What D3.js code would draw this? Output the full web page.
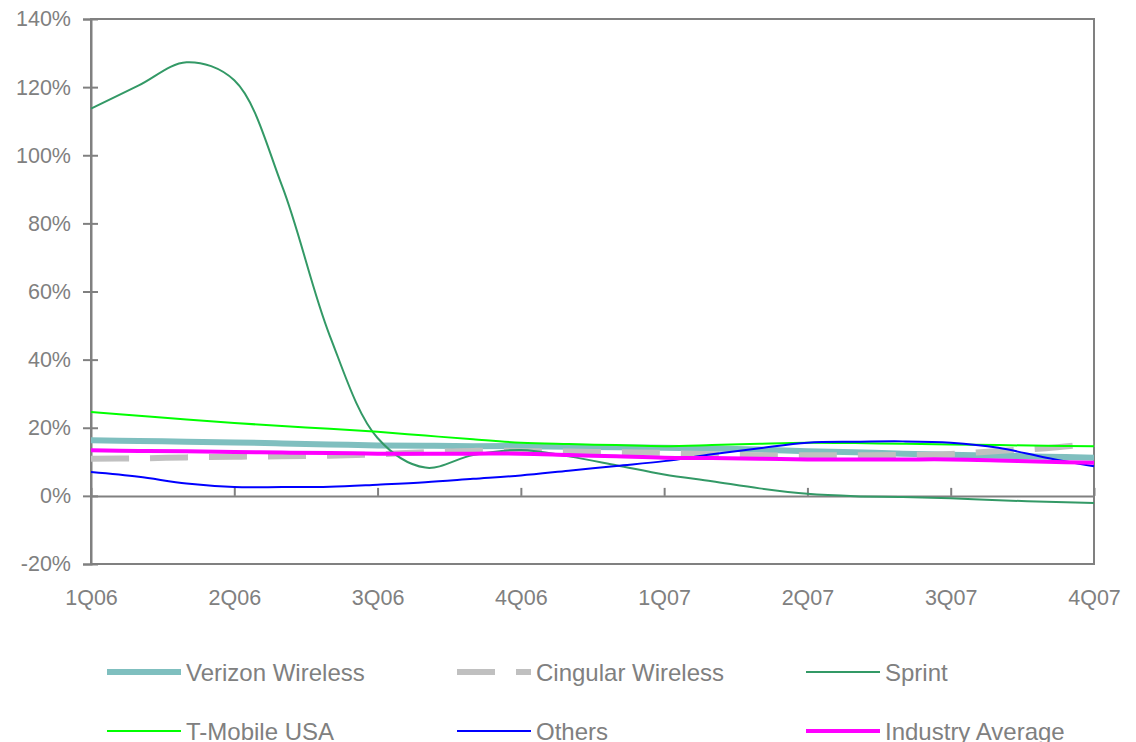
<!DOCTYPE html>
<html>
<head>
<meta charset="utf-8">
<script src="https://cdn.jsdelivr.net/npm/d3@7"></script>
<style>
  body { margin: 0; background: #fff; }
  text { font-family: "Liberation Sans", Arial, sans-serif; fill: #808080; }
</style>
</head>
<body>
<div id="graph"></div>
<script>
// Données (croissance en %, un point par mois)
let mois = ["Jan06","Feb06","Mar06","Apr06","May06","Jun06","Jul06","Aug06","Sep06","Oct06","Nov06","Dec06",
            "Jan07","Feb07","Mar07","Apr07","May07","Jun07","Jul07","Aug07","Sep07","Oct07"];
let trimestres = ["1Q06","2Q06","3Q06","4Q06","1Q07","2Q07","3Q07","4Q07"];
let trimestresMois = ["Jan06","Apr06","Jul06","Oct06","Jan07","Apr07","Jul07","Oct07"];
let graduationsY = [-20, 0, 20, 40, 60, 80, 100, 120, 140];

let verizon   = [16.3,16.1,15.9,15.7,15.4,15.1,14.8,14.7,14.6,14.6,14.4,14.3,14.1,13.9,13.6,13.1,12.8,12.4,12.1,11.8,11.5,11.2];
let cingular  = [10.9,11.0,11.3,11.5,11.6,11.8,12.2,12.8,13.2,13.2,13.0,12.8,12.6,12.2,11.9,11.9,11.9,12.0,12.3,13.2,14.0,15.3];
let sprint    = [113.7,120.5,127.3,122.0,91.0,47.0,17.0,8.3,12.0,13.5,11.6,9.0,6.3,4.3,2.2,0.6,-0.1,-0.3,-0.7,-1.3,-1.7,-2.1];
let tmobile   = [24.6,23.5,22.4,21.4,20.5,19.7,18.8,17.7,16.6,15.6,15.2,14.9,14.6,14.9,15.3,15.6,15.5,15.3,15.1,14.9,14.7,14.6];
let autres    = [7.0,5.6,3.6,2.6,2.6,2.7,3.3,4.0,5.0,6.0,7.4,8.8,10.2,12.2,14.0,15.6,15.9,16.0,15.6,14.1,11.2,8.7];
let moyenne   = [13.4,13.2,13.1,12.9,12.7,12.6,12.4,12.4,12.4,12.4,12.0,11.6,11.2,11.1,10.9,10.7,10.7,10.7,10.7,10.4,10.0,9.7];

let series = [
  { nom: "Verizon Wireless",  valeurs: verizon,  couleur: "#7fbfbf", epaisseur: 6, tirets: null },
  { nom: "Cingular Wireless", valeurs: cingular, couleur: "#c0c0c0", epaisseur: 6, tirets: "38,21" },
  { nom: "Sprint",            valeurs: sprint,   couleur: "#339966", epaisseur: 2, tirets: null },
  { nom: "T-Mobile USA",      valeurs: tmobile,  couleur: "#00ff00", epaisseur: 2, tirets: null },
  { nom: "Others",            valeurs: autres,   couleur: "#0000ff", epaisseur: 2, tirets: null },
  { nom: "Industry Average",  valeurs: moyenne,  couleur: "#ff00ff", epaisseur: 4, tirets: null }
];

// Marges et taille
let marges = {haut: 19, droit: 42, bas: 178, gauche: 91},
    largeurTotale = 1136,
    hauteurTotale = 742,
    largeurInterne = largeurTotale - marges.gauche - marges.droit,
    hauteurInterne = hauteurTotale - marges.haut - marges.bas;

let echelleX = d3.scalePoint()
    .domain(mois)
    .range([0, largeurInterne]);

let echelleY = d3.scaleLinear()
    .domain([-20, 140])
    .range([hauteurInterne, 0]);

let svg = d3.select("#graph").append("svg")
    .attr("width", largeurTotale)
    .attr("height", hauteurTotale);

let graphique = svg.append("g")
    .attr("transform", "translate(" + marges.gauche + "," + marges.haut + ")");

// Cadre du graphique
graphique.append("rect")
    .attr("x", 0).attr("y", 0)
    .attr("width", largeurInterne)
    .attr("height", hauteurInterne)
    .attr("fill", "none")
    .attr("stroke", "#808080")
    .attr("stroke-width", 2);

// Axe Y
let axeY = d3.axisLeft(echelleY)
    .tickValues(graduationsY)
    .tickFormat(d => d + "%")
    .tickSize(8)
    .tickPadding(12);

let gY = graphique.append("g").call(axeY);
gY.select(".domain").attr("stroke", "#808080").attr("stroke-width", 2);
gY.selectAll(".tick line").attr("x1", 7).attr("x2", -8).attr("stroke", "#808080").attr("stroke-width", 2);
gY.selectAll(".tick text").style("font-size", "21.5px").attr("fill", "#808080");

// Ligne du zéro avec graduations vers le haut
let axeZero = d3.axisTop(echelleX)
    .tickValues(trimestresMois)
    .tickFormat("")
    .tickSize(8)
    .tickSizeOuter(0);

let gZero = graphique.append("g")
    .attr("transform", "translate(0," + echelleY(0) + ")")
    .call(axeZero);
gZero.selectAll("path, line").attr("stroke", "#808080").attr("stroke-width", 2);

// Etiquettes des trimestres en bas
let axeX = d3.axisBottom(echelleX)
    .tickValues(trimestresMois)
    .tickFormat((d, i) => trimestres[i])
    .tickSize(0)
    .tickPadding(26);

let gX = graphique.append("g")
    .attr("transform", "translate(0," + hauteurInterne + ")")
    .call(axeX);
gX.select(".domain").remove();
gX.selectAll(".tick text").style("font-size", "21.5px").attr("fill", "#808080");

// Courbes lissées
let ligne = d3.line()
    .x((d, i) => echelleX(mois[i]))
    .y(d => echelleY(d))
    .curve(d3.curveCatmullRom.alpha(0.5));

graphique.selectAll(".serie")
    .data(series)
    .enter()
    .append("path")
    .attr("class", "serie")
    .attr("d", d => ligne(d.valeurs))
    .attr("fill", "none")
    .attr("stroke", d => d.couleur)
    .attr("stroke-width", d => d.epaisseur)
    .attr("stroke-dasharray", d => d.tirets);

// Légende
let legendeX = [107, 457, 806],
    legendeY = [672, 731];

let legende = svg.selectAll(".legende")
    .data(series)
    .enter()
    .append("g")
    .attr("class", "legende")
    .attr("transform", (d, i) => "translate(" + legendeX[i % 3] + "," + legendeY[Math.floor(i / 3)] + ")");

legende.append("line")
    .attr("x1", 0).attr("x2", 74)
    .attr("y1", 0).attr("y2", 0)
    .attr("stroke", d => d.couleur)
    .attr("stroke-width", d => d.epaisseur)
    .attr("stroke-dasharray", d => d.tirets);

legende.append("text")
    .attr("x", 79)
    .attr("y", 9)
    .style("font-size", "24px")
    .text(d => d.nom);
</script>
</body>
</html>
